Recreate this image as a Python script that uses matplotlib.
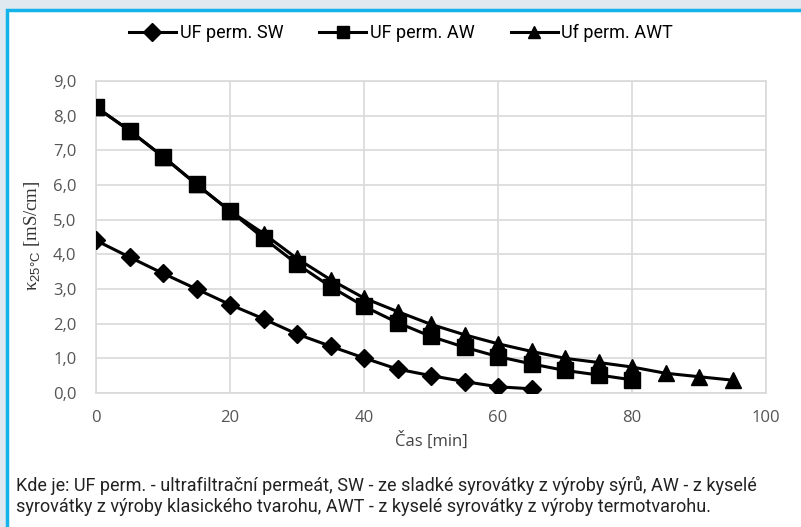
import numpy as np
import matplotlib.pyplot as plt
from matplotlib.patches import Rectangle

# data
t_sw = list(range(0, 70, 5))
sw = [4.40, 3.92, 3.45, 3.00, 2.55, 2.14, 1.70, 1.35, 1.01, 0.69, 0.50, 0.33, 0.18, 0.12]

t_aw = list(range(0, 85, 5))
aw = [8.25, 7.57, 6.82, 6.02, 5.25, 4.47, 3.72, 3.07, 2.50, 2.03, 1.63, 1.32, 1.05, 0.84, 0.65, 0.52, 0.38]

t_awt = list(range(0, 100, 5))
awt = [8.25, 7.57, 6.82, 6.02, 5.25, 4.60, 3.88, 3.27, 2.74, 2.35, 1.98, 1.68, 1.42, 1.20, 1.00, 0.88, 0.75, 0.57, 0.47, 0.37]

names = ['UF perm. SW', 'UF perm. AW', 'Uf perm. AWT']
xticks = [0, 20, 40, 60, 80, 100]
yticks = [0, 1, 2, 3, 4, 5, 6, 7, 8, 9]
caption = ('Kde je: UF perm. - ultrafiltrační permeát, SW - ze sladké syrovátky z výroby sýrů, AW - z kyselé\n'
           'syrovátky z výroby klasického tvarohu, AWT - z kyselé syrovátky z výroby termotvarohu.')

plt.rcParams['mathtext.fontset'] = 'custom'
plt.rcParams['mathtext.rm'] = 'Liberation Serif'
plt.rcParams['mathtext.sf'] = 'Liberation Sans'

narrow = ['Roboto', 'DejaVu Sans']

fig = plt.figure(figsize=(8.01, 5.27), dpi=100)
fig.patch.set_facecolor('#dfe9ef')
# white panel with blue border
fig.patches.append(Rectangle((7 / 801, -0.05), 1.0, 1 - 10 / 527 + 0.05, transform=fig.transFigure,
                             facecolor='white', edgecolor='#14b4ea', linewidth=2.5, zorder=-5))

ax = fig.add_axes([96 / 801, 1 - 393 / 527, 670 / 801, 312 / 527])
ax.set_facecolor('white')

ax.plot(t_sw, sw, color='black', lw=2.2, marker='D', ms=9, label=names[0], zorder=3)
ax.plot(t_aw, aw, color='black', lw=2.2, marker='s', ms=12, label=names[1], zorder=3)
ax.plot(t_awt, awt, color='black', lw=2.2, marker='^', ms=12, label=names[2], zorder=3)

ax.set_xlim(0, 100)
ax.set_ylim(0, 9)
ax.set_xticks(xticks)
ax.set_yticks(yticks)
ax.set_yticklabels(['{:.1f}'.format(v).replace('.', ',') for v in yticks])
ax.grid(True, color='#d9d9d9', lw=1.2)
ax.set_axisbelow(True)
for s in ax.spines.values():
    s.set_color('#d9d9d9')
    s.set_linewidth(1.2)
ax.tick_params(length=0, labelsize=12, colors='#555555')
for lab in ax.get_xticklabels() + ax.get_yticklabels():
    lab.set_fontfamily('Open Sans')
ax.tick_params(axis='x', pad=12)
ax.tick_params(axis='y', pad=14)

fig.text(33 / 801, 1 - 236 / 527, r'$\mathrm{κ}_{\mathsf{25°C}}$ [mS/cm]', rotation=90,
         ha='center', va='center', fontsize=13.5, family='Liberation Serif', color='#333333')
fig.text(431 / 801, 1 - 441 / 527, 'Čas [min]', ha='center', va='center',
         fontsize=12, family='Open Sans', color='#444444')

leg = fig.legend(loc='center', bbox_to_anchor=(401 / 801, 1 - 33 / 527), ncol=3, frameon=False,
                 handlelength=2.6, columnspacing=2.0, handletextpad=0.2,
                 prop={'family': narrow, 'size': 13})
for h in leg.legend_handles:
    h.set_markersize(9)

fig.text(16 / 801, 1 - 496 / 527, caption, ha='left', va='center', fontsize=13,
         family=narrow, color='#222222', linespacing=1.2)

fig.savefig('out.png', dpi=100, facecolor=fig.get_facecolor())
